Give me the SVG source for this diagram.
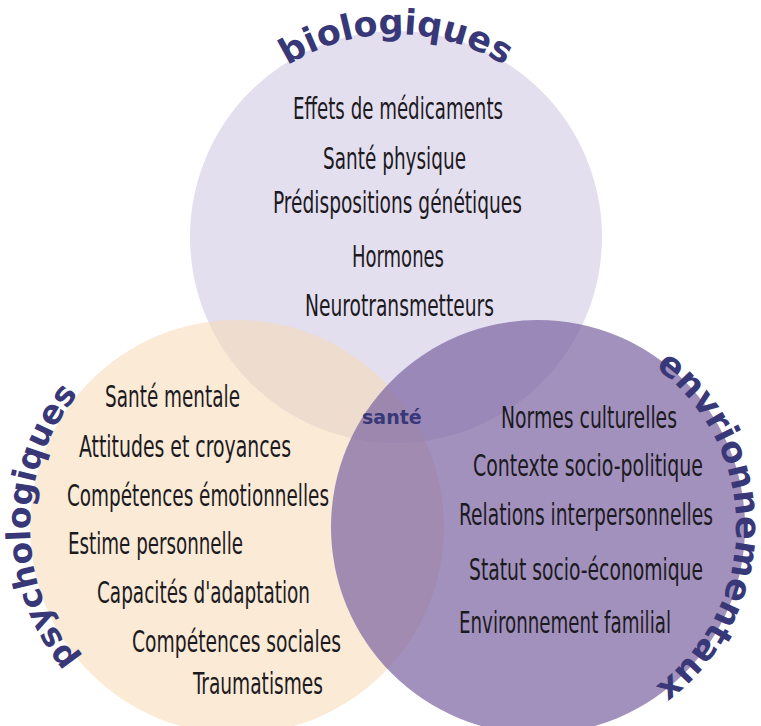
<svg xmlns="http://www.w3.org/2000/svg" width="761" height="726" viewBox="0 0 761 726">
<defs>
<style>
.item{font-family:"Liberation Sans Narrow","DejaVu Sans Condensed","Liberation Sans",sans-serif;font-size:31px;fill:#1c1a1f;}
.label{font-family:"DejaVu Sans","Liberation Sans",sans-serif;font-weight:bold;fill:#383878;}
.circ-top{fill:#e4dfee;}
.circ-left{fill:#f6d9b4;fill-opacity:0.55;}
.circ-right{fill:#7a62a1;fill-opacity:0.7;}
</style>
<path id="arcTop" d="M196.1,201.8 A203,203 0 0 1 595.9,201.8" fill="none"/>
<path id="arcLeft" d="M166.2,721.5 A207,207 0 0 1 166.2,332.5" fill="none"/>
<path id="arcRight" d="M572.4,332 A198,198 0 0 1 572.4,722" fill="none"/>
</defs>
<rect width="761" height="726" fill="#ffffff"/>
<g id="node-biologiques">
<circle class="circ-top" cx="396" cy="237" r="206"/>
<text class="label" font-size="35" text-anchor="middle"><textPath href="#arcTop" startOffset="50%">biologiques</textPath></text>
<text class="item" x="293" y="119" textLength="210" lengthAdjust="spacingAndGlyphs">Effets de médicaments</text>
<text class="item" x="323" y="169" textLength="143" lengthAdjust="spacingAndGlyphs">Santé physique</text>
<text class="item" x="273" y="213" textLength="249" lengthAdjust="spacingAndGlyphs">Prédispositions génétiques</text>
<text class="item" x="352" y="267" textLength="92" lengthAdjust="spacingAndGlyphs">Hormones</text>
<text class="item" x="305" y="316" textLength="189" lengthAdjust="spacingAndGlyphs">Neurotransmetteurs</text>
</g>
<g id="node-psychologiques">
<circle class="circ-left" cx="237" cy="527" r="207"/>
<text class="label" font-size="33" text-anchor="middle"><textPath href="#arcLeft" startOffset="50%">psychologiques</textPath></text>
<text class="item" x="105" y="407" textLength="135" lengthAdjust="spacingAndGlyphs">Santé mentale</text>
<text class="item" x="79" y="457" textLength="212" lengthAdjust="spacingAndGlyphs">Attitudes et croyances</text>
<text class="item" x="67" y="506" textLength="262" lengthAdjust="spacingAndGlyphs">Compétences émotionnelles</text>
<text class="item" x="68" y="554" textLength="175" lengthAdjust="spacingAndGlyphs">Estime personnelle</text>
<text class="item" x="97" y="603" textLength="213" lengthAdjust="spacingAndGlyphs">Capacités d'adaptation</text>
<text class="item" x="132" y="652" textLength="209" lengthAdjust="spacingAndGlyphs">Compétences sociales</text>
<text class="item" x="193" y="694" textLength="130" lengthAdjust="spacingAndGlyphs">Traumatismes</text>
</g>
<g id="node-environnementaux">
<circle class="circ-right" cx="538" cy="527" r="207"/>
<text class="label" font-size="35" text-anchor="middle"><textPath href="#arcRight" startOffset="50%">envrionnementaux</textPath></text>
<text class="item" x="501" y="428" textLength="176" lengthAdjust="spacingAndGlyphs">Normes culturelles</text>
<text class="item" x="473" y="476" textLength="230" lengthAdjust="spacingAndGlyphs">Contexte socio-politique</text>
<text class="item" x="459" y="525" textLength="254" lengthAdjust="spacingAndGlyphs">Relations interpersonnelles</text>
<text class="item" x="469" y="580" textLength="234" lengthAdjust="spacingAndGlyphs">Statut socio-économique</text>
<text class="item" x="459" y="633" textLength="212" lengthAdjust="spacingAndGlyphs">Environnement familial</text>
</g>
<g id="node-sante">
<text class="label" font-size="19" x="362" y="424">santé</text>
</g>
</svg>
